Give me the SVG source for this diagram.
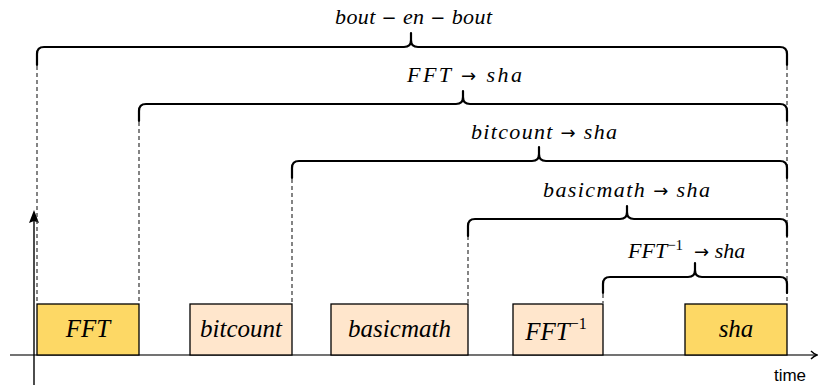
<svg xmlns="http://www.w3.org/2000/svg" width="818" height="387" viewBox="0 0 818 387">
<rect width="818" height="387" fill="#fff"/>
<g id="axes">
<line x1="10" y1="355" x2="815" y2="355" stroke="#444" stroke-width="1.6"/>
<path d="M811,351 Q814,354 817,355 Q814,356 811,359" fill="none" stroke="#000" stroke-width="1.4"/>
<line x1="34" y1="385" x2="34" y2="220" stroke="#000" stroke-width="1.4"/>
<path d="M34,210 L39,223 L34,221 L29,223 Z" fill="#000"/>
<text x="790" y="381" font-family="Liberation Sans" font-size="17" text-anchor="middle" fill="#000">time</text>
</g>
<g id="connectors">
<path fill="none" stroke="#333" stroke-width="1.2" stroke-dasharray="4 3" d="M37,66 V303 M139,122 V303 M292,179 V303 M468,236 V303 M603,294 V303 M787,66 V303"/>
<g fill="none" stroke="#000" stroke-width="2.2" stroke-linecap="round" stroke-linejoin="round">
<path d="M37,65 V54 Q37,47 44,47 H404 Q411,47 411,40 V33 M411,33 V40 Q411,47 418,47 H780 Q787,47 787,54 V65"/>
<path d="M139,121 V111 Q139,104 146,104 H456 Q463,104 463,97 V91 M463,91 V97 Q463,104 470,104 H780 Q787,104 787,111 V121"/>
<path d="M292,178 V168 Q292,161 299,161 H532 Q539,161 539,154 V147 M539,147 V154 Q539,161 546,161 H780 Q787,161 787,168 V178"/>
<path d="M468,236 V226 Q468,219 475,219 H620 Q627,219 627,212 V206 M627,206 V212 Q627,219 634,219 H780 Q787,219 787,226 V236"/>
<path d="M603,293 V284 Q603,277 610,277 H688 Q695,277 695,270 V263 M695,263 V270 Q695,277 702,277 H780 Q787,277 787,284 V293"/>
</g>
<text x="335" y="24" font-family="Liberation Serif" font-style="italic" font-size="22" textLength="157" lengthAdjust="spacing">bout <tspan font-style="normal" font-family="DejaVu Sans" font-size="18">−</tspan> en <tspan font-style="normal" font-family="DejaVu Sans" font-size="18">−</tspan> bout</text>
<text x="407" y="82" font-family="Liberation Serif" font-style="italic" font-size="22" textLength="115" lengthAdjust="spacing">FFT <tspan font-style="normal" font-family="DejaVu Sans" font-size="18">→</tspan> sha</text>
<text x="471" y="139" font-family="Liberation Serif" font-style="italic" font-size="22" textLength="146" lengthAdjust="spacing">bitcount <tspan font-style="normal" font-family="DejaVu Sans" font-size="18">→</tspan> sha</text>
<text x="543" y="197" font-family="Liberation Serif" font-style="italic" font-size="22" textLength="167" lengthAdjust="spacing">basicmath <tspan font-style="normal" font-family="DejaVu Sans" font-size="18">→</tspan> sha</text>
<text x="628" y="258" font-family="Liberation Serif" font-style="italic" font-size="22">FFT<tspan font-style="normal" font-size="15" dy="-8">−1</tspan><tspan dy="8" xml:space="preserve">  </tspan><tspan font-style="normal" font-family="DejaVu Sans" font-size="18">→</tspan> sha</text>
</g>
<g id="node-fft">
<rect fill="#FDD865" stroke="#000" stroke-width="1.3" x="37" y="304" width="102" height="51"/>
<text x="88" y="337" font-family="Liberation Serif" font-style="italic" font-size="25" text-anchor="middle">FFT</text>
</g>
<g id="node-bitcount">
<rect fill="#FFE6CC" stroke="#000" stroke-width="1.3" x="190" y="304" width="102" height="51"/>
<text x="241" y="337" font-family="Liberation Serif" font-style="italic" font-size="25" text-anchor="middle">bitcount</text>
</g>
<g id="node-basicmath">
<rect fill="#FFE6CC" stroke="#000" stroke-width="1.3" x="331" y="304" width="137" height="51"/>
<text x="399.5" y="337" font-family="Liberation Serif" font-style="italic" font-size="25" text-anchor="middle">basicmath</text>
</g>
<g id="node-fft-inv">
<rect fill="#FFE6CC" stroke="#000" stroke-width="1.3" x="513" y="304" width="90" height="51"/>
<text x="556" y="340" font-family="Liberation Serif" font-style="italic" font-size="25" text-anchor="middle">FFT<tspan font-style="normal" font-size="16" dy="-11">−1</tspan></text>
</g>
<g id="node-sha">
<rect fill="#FDD865" stroke="#000" stroke-width="1.3" x="685" y="304" width="102" height="51"/>
<text x="736" y="337" font-family="Liberation Serif" font-style="italic" font-size="25" text-anchor="middle">sha</text>
</g>
</svg>
